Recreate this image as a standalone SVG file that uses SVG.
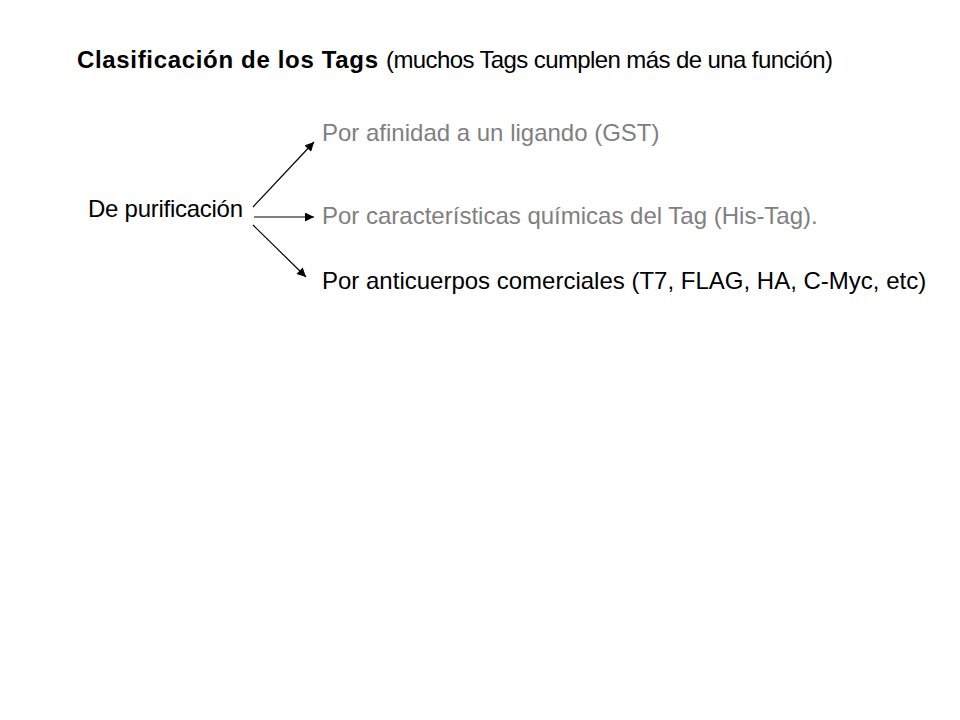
<svg xmlns="http://www.w3.org/2000/svg" width="960" height="720" viewBox="0 0 960 720">
<defs>
<marker id="arr" viewBox="0 0 10 10" refX="10" refY="5" markerWidth="10" markerHeight="9" markerUnits="userSpaceOnUse" orient="auto">
<path d="M0,0 L10,5 L0,10 z" fill="#000"/>
</marker>
</defs>
<style>
text{font-family:"Liberation Sans",Arial,sans-serif;font-size:24px;}
.g{fill:#808080;}
.k{fill:#000;}
.c{stroke:#000;stroke-width:1.2;fill:none;marker-end:url(#arr);}
</style>
<rect width="960" height="720" fill="#fff"/>
<g id="title">
<text x="77" y="68" class="k" font-weight="bold" font-size="25" textLength="301">Clasificación de los Tags</text>
<text x="386" y="68" class="k" font-size="23" textLength="447">(muchos Tags cumplen más de una función)</text>
</g>
<g id="node-purificacion"><text x="88" y="217" class="k" textLength="155">De purificación</text></g>
<g id="node-afinidad"><text x="322" y="141" class="g">Por afinidad a un ligando (GST)</text></g>
<g id="node-quimicas"><text x="322" y="224" class="g">Por características químicas del Tag (His-Tag).</text></g>
<g id="node-anticuerpos"><text x="322" y="289" class="k">Por anticuerpos comerciales (T7, FLAG, HA, C-Myc, etc)</text></g>
<g id="connectors">
<line class="c" x1="253" y1="207" x2="314" y2="142"/>
<line class="c" x1="254" y1="217" x2="314" y2="217"/>
<line class="c" x1="253" y1="225" x2="306" y2="277"/>
</g>
</svg>
